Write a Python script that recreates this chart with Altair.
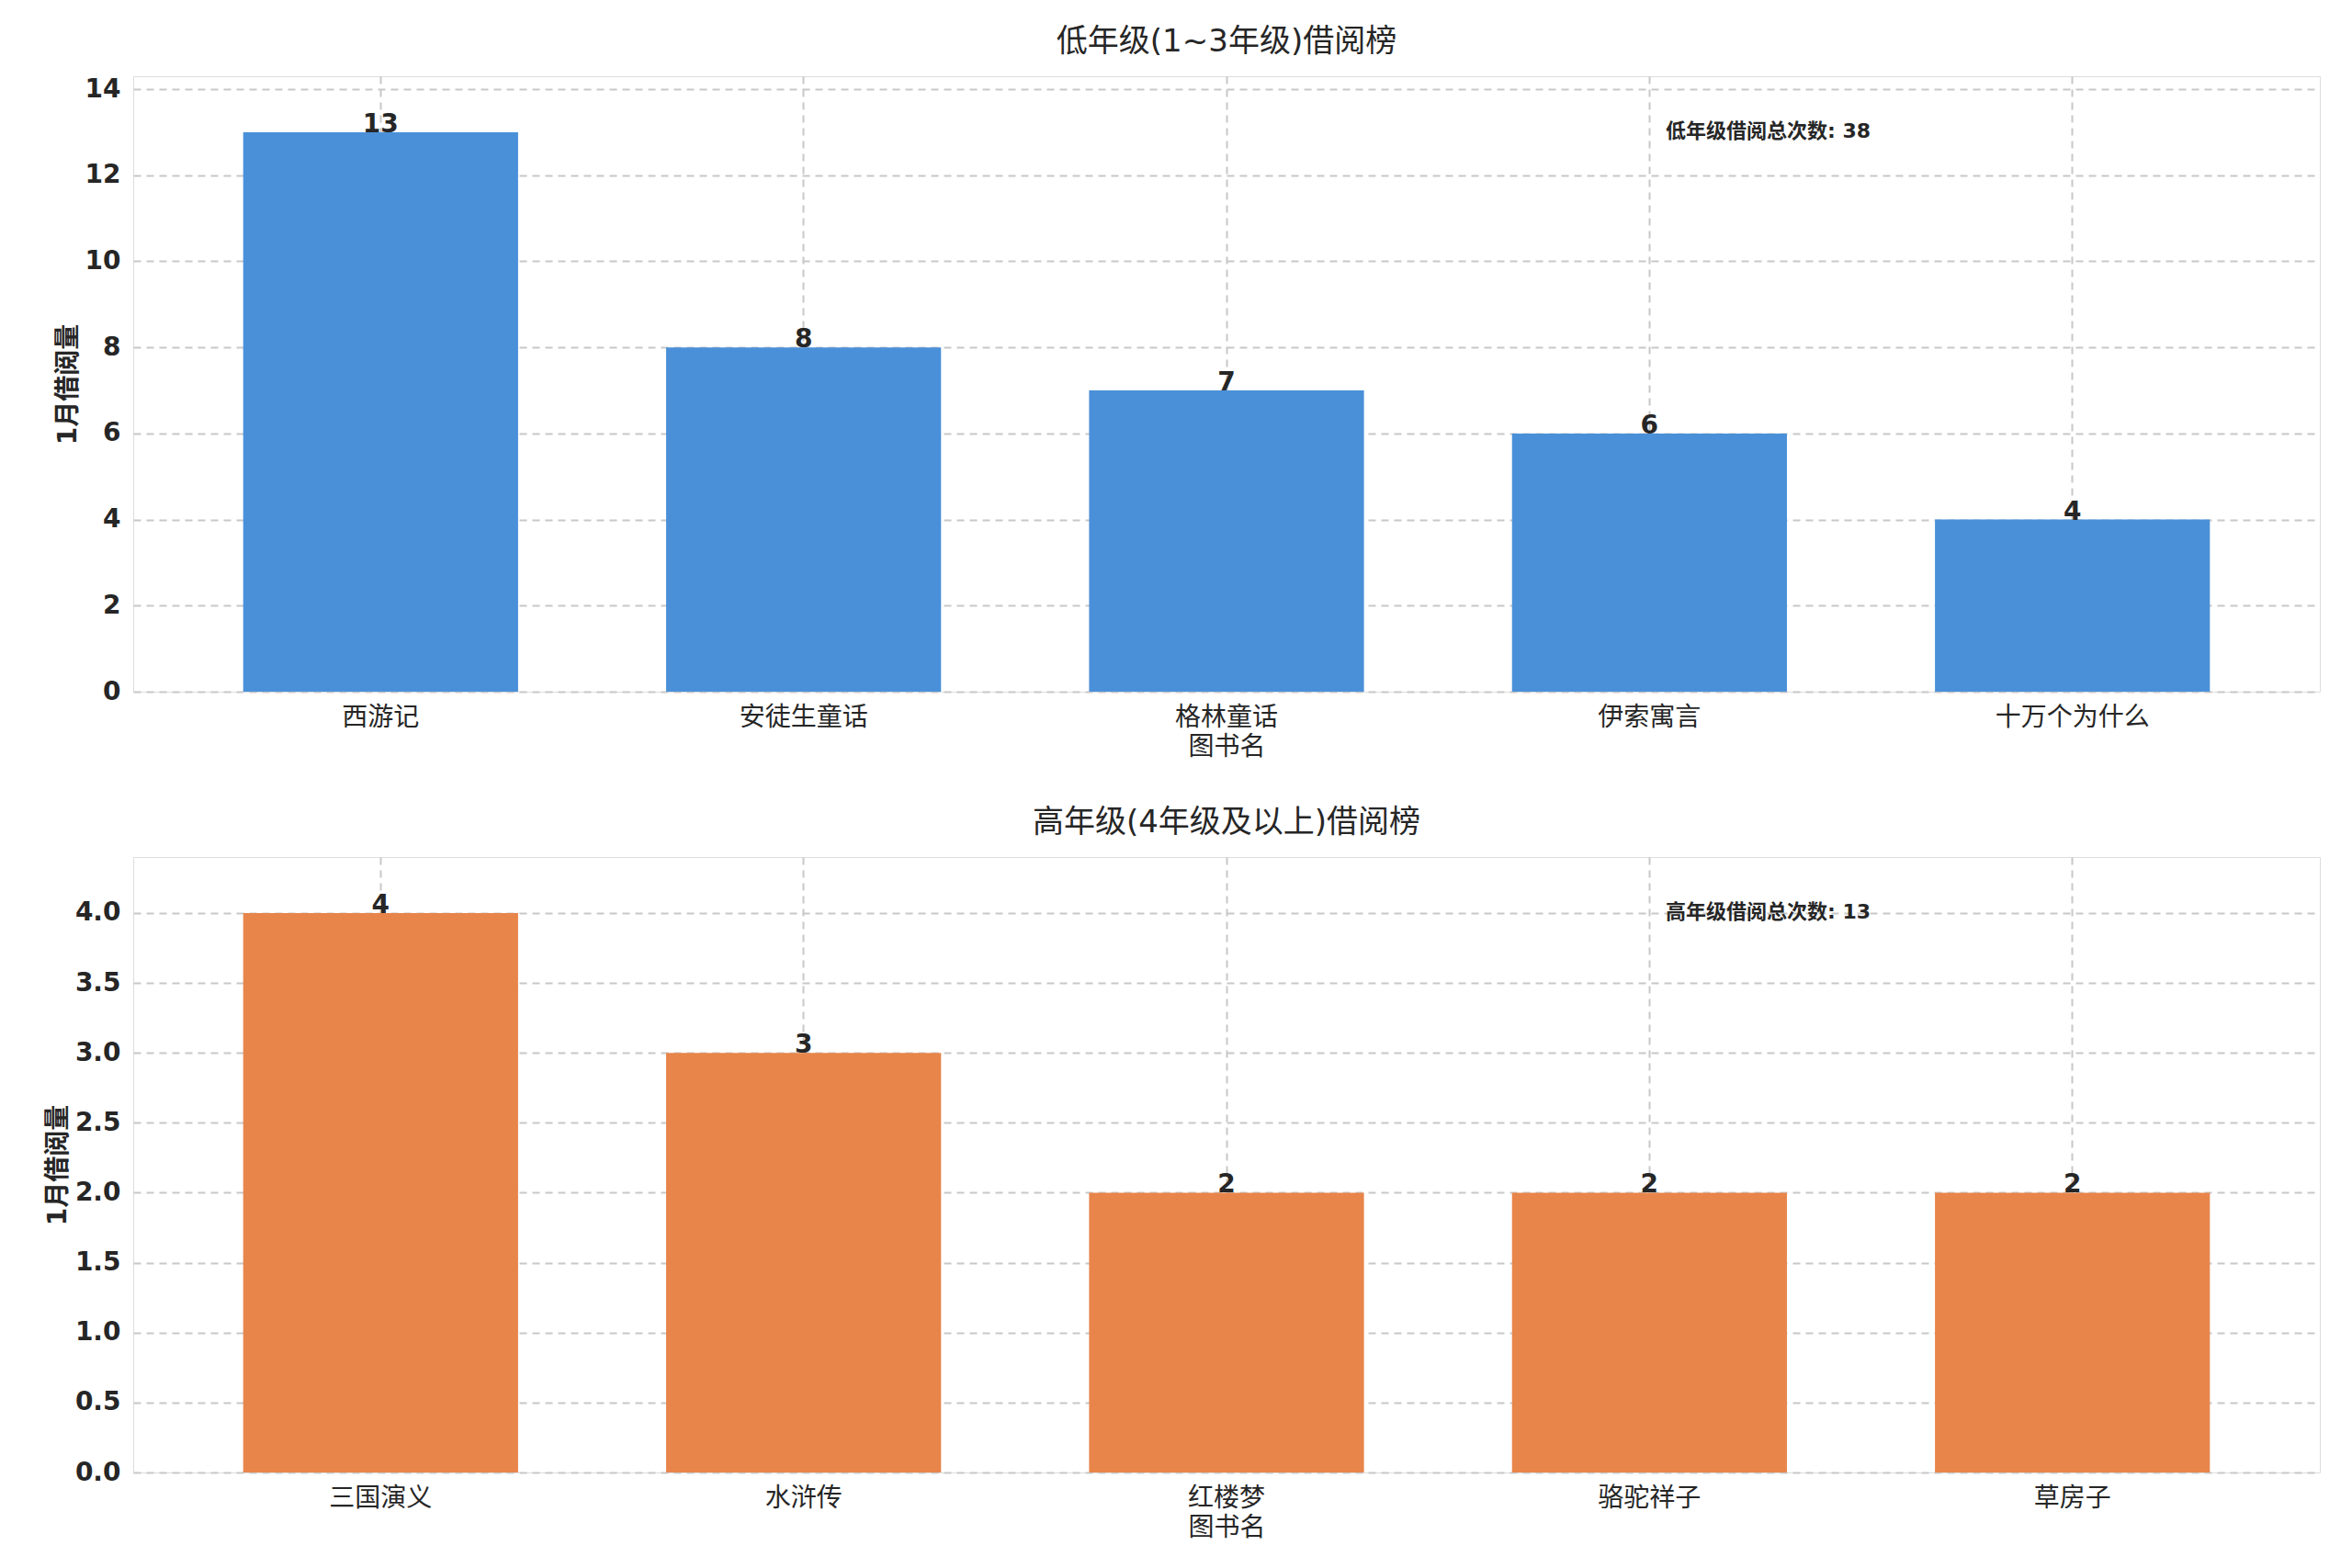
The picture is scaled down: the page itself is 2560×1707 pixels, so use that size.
import altair as alt
import pandas as pd

# ── Data ─────────────────────────────────────────────────────────────────────
low_books = ["西游记", "安徒生童话", "格林童话", "伊索寓言", "十万个为什么"]
low_counts = [13, 8, 7, 6, 4]
high_books = ["三国演义", "水浒传", "红楼梦", "骆驼祥子", "草房子"]
high_counts = [4, 3, 2, 2, 2]
low_ticks = [0, 2, 4, 6, 8, 10, 12, 14]
high_ticks = [0, 0.5, 1.0, 1.5, 2.0, 2.5, 3.0, 3.5, 4.0]

FONT = "DejaVu Sans, Noto Sans CJK SC"
GRID = "#c8c8c8"


def panel(books, counts, color, title, ymax, ticks, total_text, fmt):
    df = pd.DataFrame({"book": books, "count": counts})
    x = alt.X("book:N", sort=books, title="图书名",
              scale=alt.Scale(paddingInner=0.35, paddingOuter=0.26),
              axis=alt.Axis(labelAngle=0, grid=True, gridDash=[8, 6], gridColor=GRID,
                            gridWidth=2, labelFontSize=28, titleFontSize=28,
                            titleFontWeight="normal", ticks=False, domain=False,
                            labelPadding=14))
    y = alt.Y("count:Q", title="1月借阅量", scale=alt.Scale(domain=[0, ymax], nice=False),
              axis=alt.Axis(format=fmt, values=ticks, grid=True, gridDash=[8, 6],
                            gridColor=GRID, gridWidth=2, labelFontSize=28,
                            labelFontWeight="bold", titleFontSize=28, titleFontWeight="bold",
                            ticks=False, domain=False, labelPadding=14))
    bars = alt.Chart(df).mark_bar(color=color).encode(x=x, y=y)
    labels = alt.Chart(df).mark_text(fontSize=28, fontWeight="bold", color="#262626",
                                     baseline="middle", dy=-8).encode(
        x=alt.X("book:N", sort=books), y="count:Q", text="count:Q")
    note = alt.Chart(pd.DataFrame({"t": [total_text]})).mark_text(
        fontSize=22, fontWeight="bold", color="#262626", align="left").encode(
        x=alt.value(1668), y=alt.value(60), text="t:N")
    return (bars + labels + note).properties(
        width=2380, height=670,
        title=alt.TitleParams(title, fontSize=34, fontWeight="normal", color="#262626",
                              offset=20))


top = panel(low_books, low_counts, "#4a90d9", "低年级(1~3年级)借阅榜", 14.3, low_ticks,
            "低年级借阅总次数: 38", "d")
bottom = panel(high_books, high_counts, "#e8854b", "高年级(4年级及以上)借阅榜", 4.4,
               high_ticks, "高年级借阅总次数: 13", ".1f")

chart = (
    alt.vconcat(top, bottom, spacing=50)
    .resolve_scale(x="independent", y="independent")
    .properties(background="white", padding={"left": 40, "top": 20, "right": 5, "bottom": 5})
    .configure_view(stroke="#cccccc", strokeWidth=2)
    .configure(font=FONT)
    .configure_axis(labelColor="#262626", titleColor="#262626")
)

chart.save("out.html", embed_options={"renderer": "svg", "actions": False})
